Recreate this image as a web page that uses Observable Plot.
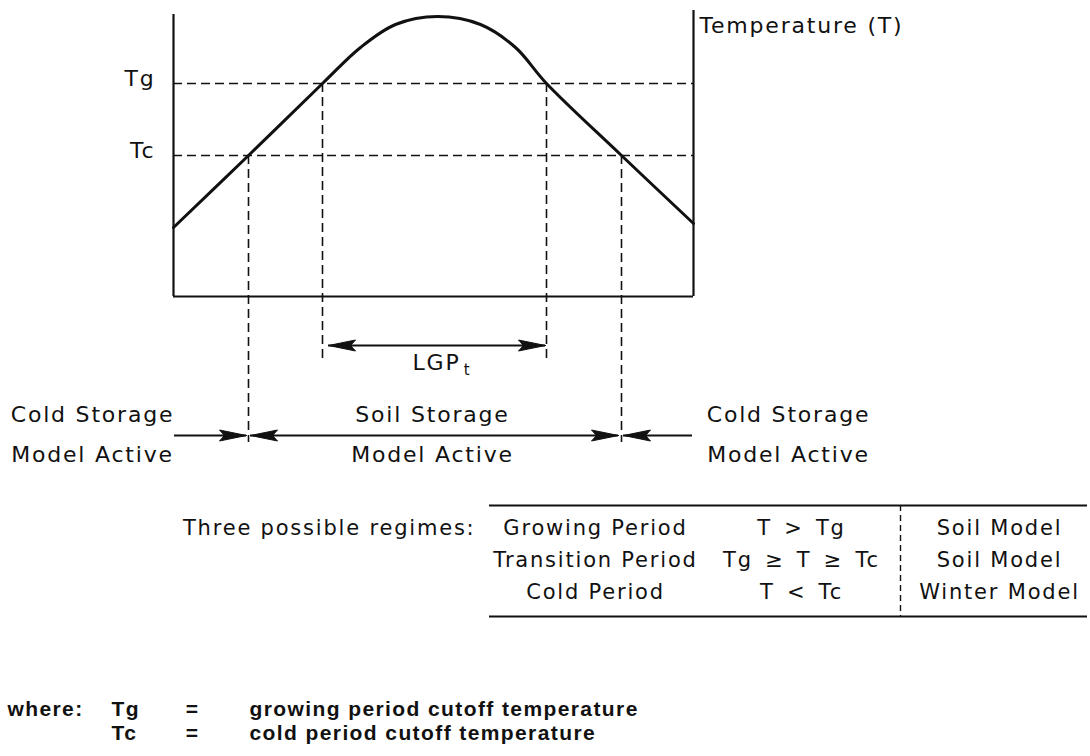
<!DOCTYPE html>
<html><head><meta charset="utf-8">
<script src="https://cdn.jsdelivr.net/npm/d3@7"></script>
<script src="https://cdn.jsdelivr.net/npm/@observablehq/plot@0.6"></script>
<style>
html,body{margin:0;padding:0;background:#fff;}
#chart{width:1090px;height:756px;overflow:hidden;}
</style></head><body><div id="chart"></div>
<script>
// ---- data (diagram units: time along x, temperature along y) ----
const curveX = [0, 7.5, 14.9, 18.7, 22.2, 26.4, 30.7, 34.2, 37.3, 44.8, 52];
const curveT = [6.9, 14.1, 21.3, 24.9, 27.2, 28.0, 27.2, 24.9, 21.3, 14.1, 7.3];
const thresholdNames = ["Tg", "Tc"];
const thresholdT = [21.3, 14.1];
const crossingX = [7.5, 14.9, 37.3, 44.8];
const crossingT = [14.1, 21.3, 21.3, 14.1];
const crossingEnd = [-14.6, -6.4, -6.4, -14.6];
const periodStart = 0, periodEnd = 52;
const axisTop = [28.2, 28.6];
const axisTitle = "Temperature (T)";
const lgpLabel = "LGP", lgpSub = "t";
const zoneLines1 = ["Cold Storage", "Soil Storage", "Cold Storage"];
const zoneLines2 = ["Model Active", "Model Active", "Model Active"];
const regimeIntro = "Three possible regimes:";
const regimeNames = ["Growing Period", "Transition Period", "Cold Period"];
const regimeConditions = ["T\u2002>\u2002Tg", "Tg\u2002\u2265\u2002T\u2002\u2265\u2002Tc", "T\u2002<\u2002Tc"];
const regimeModels = ["Soil Model", "Soil Model", "Winter Model"];
const defSymbols = ["Tg", "Tc"];
const defTexts = ["growing period cutoff temperature", "cold period cutoff temperature"];

// ---- layout in diagram units ----
const FONT = "DejaVu Sans";
const lgpY = -4.9, zoneArrowY = -13.9;
const zoneText1Y = -11.8, zoneText2Y = -15.8;
const zoneCenters = [-8.1, 25.9, 61.5];
const tableTop = -20.9, tableBottom = -32.0, rowY = [-23.2, -26.4, -29.6];
const tableX1 = 31.6, tableX2 = 91.4, colX = [42.2, 62.8, 82.6], tableDiv = 72.7;
const defY = [-41.3, -43.7];

const curve = curveX.map((x, i) => ({x, T: curveT[i]}));
const thresholds = thresholdNames.map((n, i) => ({n, T: thresholdT[i]}));
const crossings = crossingX.map((x, i) => ({x, T: crossingT[i], end: crossingEnd[i]}));
const frame = [{x: periodStart, top: axisTop[0]}, {x: periodEnd, top: axisTop[1]}];

// arrows: shaft endpoints (tips) and which ends carry heads
const arrows = [
  {x1: crossingX[1] + 0.6, x2: crossingX[2] - 0.1, y: lgpY, a: true, b: true},
  {x1: periodStart + 0.1, x2: crossingX[0] - 0.2, y: zoneArrowY, a: false, b: true},
  {x1: crossingX[0] + 0.2, x2: crossingX[3] - 0.3, y: zoneArrowY, a: true, b: true},
  {x1: crossingX[3] + 0.2, x2: periodEnd - 0.1, y: zoneArrowY, a: true, b: false}
];
const HL = 2.7, HW = 0.55, HN = 0.5;
const heads = [];
arrows.forEach((ar, i) => {
  if (ar.a) { const id = i + "a"; heads.push({id, x: ar.x1, y: ar.y}, {id, x: ar.x1 + HL, y: ar.y + HW}, {id, x: ar.x1 + HL - HN, y: ar.y}, {id, x: ar.x1 + HL, y: ar.y - HW}, {id, x: ar.x1, y: ar.y}); }
  if (ar.b) { const id = i + "b"; heads.push({id, x: ar.x2, y: ar.y}, {id, x: ar.x2 - HL, y: ar.y + HW}, {id, x: ar.x2 - HL + HN, y: ar.y}, {id, x: ar.x2 - HL, y: ar.y - HW}, {id, x: ar.x2, y: ar.y}); }
});

const zones = zoneCenters.map((x, i) => ({x, l1: zoneLines1[i], l2: zoneLines2[i]}));
const rows = regimeNames.map((n, i) => ({n, c: regimeConditions[i], m: regimeModels[i], y: rowY[i]}));
const defs = defSymbols.map((s, i) => ({s, t: defTexts[i], y: defY[i]}));

const lbl = {fontFamily: FONT, fontSize: 22, fill: "#111"};
const foot = {fontFamily: "Liberation Sans", fontSize: 21, fontWeight: "bold", fill: "#111"};
const dash = "9,5";

const plot = Plot.plot({
  width: 1090, height: 756,
  marginTop: 0, marginRight: 0, marginBottom: 0, marginLeft: 0,
  x: {domain: [0, 52], range: [173, 693], axis: null},
  y: {domain: [0, 28], range: [296, 16], axis: null},
  style: {background: "#fff"},
  marks: [
    Plot.ruleX(frame, {x: "x", y1: 0, y2: "top", stroke: "#111", strokeWidth: 2.2}),
    Plot.ruleY([0], {x1: periodStart, x2: periodEnd, stroke: "#111", strokeWidth: 2.2}),
    Plot.ruleY(thresholds, {y: "T", x1: periodStart, x2: periodEnd, stroke: "#111", strokeWidth: 1.6, strokeDasharray: dash}),
    Plot.ruleX(crossings, {x: "x", y1: "T", y2: "end", stroke: "#111", strokeWidth: 1.6, strokeDasharray: dash}),
    Plot.line(curve, {x: "x", y: "T", curve: "catmull-rom", stroke: "#111", strokeWidth: 3}),
    // arrows
    Plot.ruleY(arrows, {y: "y", x1: "x1", x2: "x2", stroke: "#111", strokeWidth: 1.8}),
    Plot.line(heads, {x: "x", y: "y", z: "id", fill: "#111", stroke: "#111", strokeWidth: 1, curve: "linear"}),
    // labels
    Plot.text([axisTitle], {x: periodEnd + 0.6, y: 27.1, text: d => d, textAnchor: "start", ...lbl}),
    Plot.text(thresholds, {x: -1.8, y: d => d.T + 0.5, text: "n", textAnchor: "end", ...lbl}),
    Plot.text([lgpLabel], {x: 26.3, y: -6.6, text: d => d, ...lbl}),
    Plot.text([lgpSub], {x: 29.4, y: -7.4, text: d => d, ...lbl, fontSize: 15}),
    Plot.text(zones, {x: "x", y: zoneText1Y, text: "l1", ...lbl}),
    Plot.text(zones, {x: "x", y: zoneText2Y, text: "l2", ...lbl}),
    // table
    Plot.ruleY([tableTop, tableBottom], {x1: tableX1, x2: tableX2, stroke: "#111", strokeWidth: 1.8}),
    Plot.ruleX([tableDiv], {y1: tableTop, y2: tableBottom, stroke: "#111", strokeWidth: 1.4, strokeDasharray: "6,4"}),
    Plot.text([regimeIntro], {x: tableX1 - 1.4, y: rowY[0], text: d => d, textAnchor: "end", ...lbl, fontSize: 21}),
    Plot.text(rows, {x: colX[0], y: "y", text: "n", ...lbl, fontSize: 21}),
    Plot.text(rows, {x: colX[1], y: "y", text: "c", ...lbl, fontSize: 21}),
    Plot.text(rows, {x: colX[2], y: "y", text: "m", ...lbl, fontSize: 21}),
    // definitions
    Plot.text(["where:"], {x: -16.6, y: defY[0], text: d => d, textAnchor: "start", ...foot}),
    Plot.text(defs, {x: -6.2, y: "y", text: "s", textAnchor: "start", ...foot}),
    Plot.text(defs, {x: 1.9, y: "y", text: () => "=", ...foot}),
    Plot.text(defs, {x: 7.6, y: "y", text: "t", textAnchor: "start", ...foot, letterSpacingHint: 1})
  ]
});
const svg = d3.select(plot);
svg.selectAll('g[font-family="DejaVu Sans"]').attr("letter-spacing", "1.8");
svg.selectAll('g[font-family="Liberation Sans"]').attr("letter-spacing", "1.4");
document.getElementById("chart").appendChild(plot);
</script>
</body></html>
